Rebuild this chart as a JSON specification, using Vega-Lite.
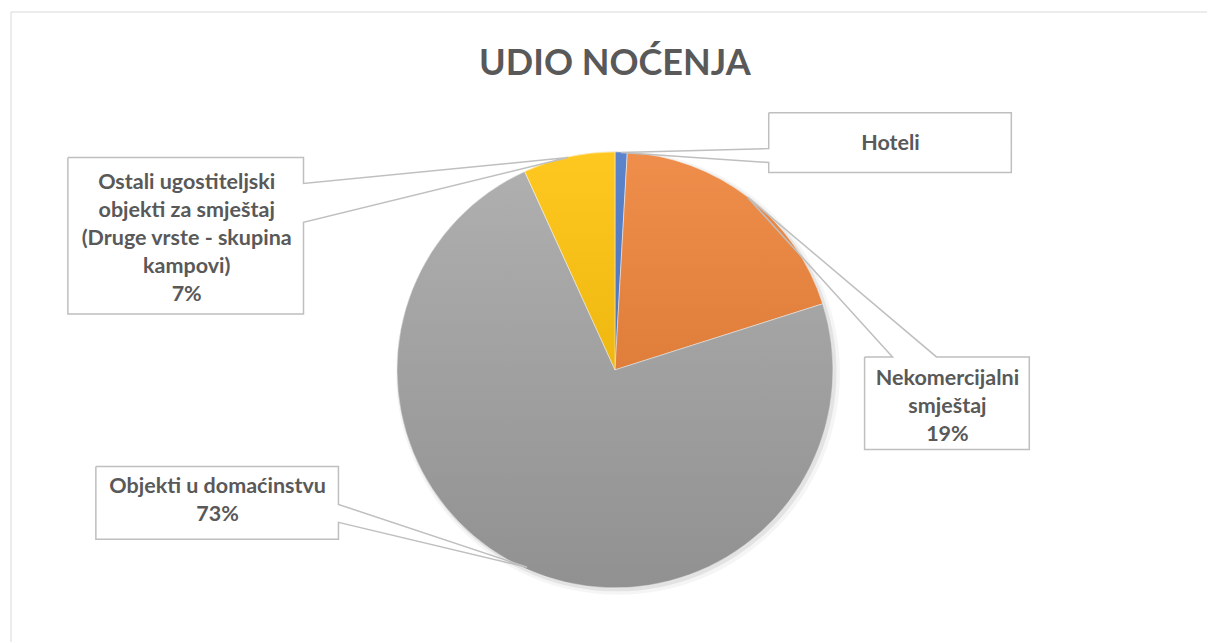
{
  "$schema": "https://vega.github.io/schema/vega-lite/v6.json",
  "width": 1208,
  "height": 643,
  "autosize": {"type": "fit", "contains": "padding"},
  "padding": {"left": 10, "top": 11, "right": 0, "bottom": 0},
  "background": "#ffffff",
  "config": {"view": {"stroke": null}},
  "datasets": {
    "slices": [
      {"cat": "Hoteli", "share": 0.9, "ord": 1},
      {"cat": "Nekomercijalni smještaj", "share": 19.2, "ord": 2},
      {"cat": "Objekti u domaćinstvu", "share": 73.1, "ord": 3},
      {"cat": "Ostali ugostiteljski objekti za smještaj (Druge vrste - skupina kampovi)", "share": 6.8, "ord": 4}
    ],
    "boxes": [
      {"id": "hot", "u1": 0.7064, "u2": 1.8211, "v1": 0.9083, "v2": 1.1835},
      {"id": "ost", "u1": -2.5138, "u2": -1.4312, "v1": 0.2569, "v2": 0.9771},
      {"id": "nek", "u1": 1.1468, "u2": 1.9037, "v1": -0.3670, "v2": 0.0596},
      {"id": "obj", "u1": -2.3853, "u2": -1.2706, "v1": -0.7798, "v2": -0.4450}
    ],
    "outline": [
      {"id": "hot", "s": 1, "u": 0.7064, "v": 1.1835},
      {"id": "hot", "s": 2, "u": 1.8211, "v": 1.1835},
      {"id": "hot", "s": 3, "u": 1.8211, "v": 0.9083},
      {"id": "hot", "s": 4, "u": 0.7064, "v": 0.9083},
      {"id": "hot", "s": 5, "u": 0.7064, "v": 0.9541},
      {"id": "hot", "s": 6, "u": 0.0275, "v": 1.0},
      {"id": "hot", "s": 7, "u": 0.7064, "v": 1.0183},
      {"id": "hot", "s": 8, "u": 0.7064, "v": 1.1835},
      {"id": "ost", "s": 1, "u": -2.5138, "v": 0.9771},
      {"id": "ost", "s": 2, "u": -1.4312, "v": 0.9771},
      {"id": "ost", "s": 3, "u": -1.4312, "v": 0.8578},
      {"id": "ost", "s": 4, "u": -0.2156, "v": 0.9771},
      {"id": "ost", "s": 5, "u": -1.4312, "v": 0.6789},
      {"id": "ost", "s": 6, "u": -1.4312, "v": 0.2569},
      {"id": "ost", "s": 7, "u": -2.5138, "v": 0.2569},
      {"id": "ost", "s": 8, "u": -2.5138, "v": 0.9771},
      {"id": "nek", "s": 1, "u": 1.1468, "v": 0.0596},
      {"id": "nek", "s": 2, "u": 1.2752, "v": 0.0596},
      {"id": "nek", "s": 3, "u": 0.6101, "v": 0.7936},
      {"id": "nek", "s": 4, "u": 1.4771, "v": 0.0596},
      {"id": "nek", "s": 5, "u": 1.9037, "v": 0.0596},
      {"id": "nek", "s": 6, "u": 1.9037, "v": -0.3670},
      {"id": "nek", "s": 7, "u": 1.1468, "v": -0.3670},
      {"id": "nek", "s": 8, "u": 1.1468, "v": 0.0596},
      {"id": "obj", "s": 1, "u": -2.3853, "v": -0.4450},
      {"id": "obj", "s": 2, "u": -1.2706, "v": -0.4450},
      {"id": "obj", "s": 3, "u": -1.2706, "v": -0.6193},
      {"id": "obj", "s": 4, "u": -0.4037, "v": -0.9083},
      {"id": "obj", "s": 5, "u": -1.2706, "v": -0.7018},
      {"id": "obj", "s": 6, "u": -1.2706, "v": -0.7798},
      {"id": "obj", "s": 7, "u": -2.3853, "v": -0.7798},
      {"id": "obj", "s": 8, "u": -2.3853, "v": -0.4450}
    ],
    "labels": [
      {"id": "hot", "u": 1.2661, "v": 1.0413, "label": "Hoteli"},
      {"id": "ost", "u": -1.9679, "v": 0.8578, "label": "Ostali ugostiteljski\nobjekti za smještaj\n(Druge vrste - skupina\nkampovi)\n7%"},
      {"id": "nek", "u": 1.5275, "v": -0.0413, "label": "Nekomercijalni\nsmještaj\n19%"},
      {"id": "obj", "u": -1.8257, "v": -0.5413, "label": "Objekti u domaćinstvu\n73%"}
    ],
    "title": [
      {"u": 0, "v": 1.4083, "label": "UDIO NOĆENJA"}
    ]
  },
  "layer": [
    {
      "data": {"name": "title"},
      "mark": {"type": "text", "font": "Lato", "fontWeight": "bold", "fontSize": 36, "color": "#595959", "align": "center", "baseline": "middle"},
      "encoding": {
        "x": {"field": "u", "type": "quantitative", "scale": {"domain": [-2.7752, 2.7202], "nice": false, "zero": false}, "axis": null},
        "y": {"field": "v", "type": "quantitative", "scale": {"domain": [-1.2523, 1.6468], "nice": false, "zero": false}, "axis": null},
        "text": {"field": "label", "type": "nominal"}
      }
    },
    {
      "data": {"values": [{"k": 1}]},
      "mark": {"type": "rule", "color": "#d9d9d9", "strokeWidth": 1},
      "encoding": {"y": {"datum": 1.6468, "type": "quantitative"}}
    },
    {
      "data": {"values": [{"k": 1}]},
      "mark": {"type": "rule", "color": "#d9d9d9", "strokeWidth": 1},
      "encoding": {"x": {"datum": -2.7752, "type": "quantitative"}}
    },
    {
      "data": {"values": [{"k": 1}]},
      "mark": {"type": "arc", "outerRadius": 222, "theta": 0, "theta2": 6.2832, "fill": "#000000", "opacity": 0.04, "x": {"expr": "scale('x', 0) + 3"}, "y": {"expr": "scale('y', 0) + 3"}},
      "encoding": {}
    },
    {
      "data": {"values": [{"k": 1}]},
      "mark": {"type": "arc", "outerRadius": 219.5, "theta": 0, "theta2": 6.2832, "fill": "#000000", "opacity": 0.07, "x": {"expr": "scale('x', 0) + 2"}, "y": {"expr": "scale('y', 0) + 2"}},
      "encoding": {}
    },
    {
      "data": {"name": "slices"},
      "mark": {"type": "arc", "outerRadius": 218, "stroke": "#ffffff", "strokeWidth": 0.5, "x": {"expr": "scale('x', 0)"}, "y": {"expr": "scale('y', 0)"}},
      "encoding": {
        "theta": {"field": "share", "type": "quantitative", "stack": true},
        "order": {"field": "ord", "type": "quantitative"},
        "color": {
          "field": "cat", "type": "nominal", "legend": null,
          "scale": {
            "domain": ["Hoteli", "Nekomercijalni smještaj", "Objekti u domaćinstvu", "Ostali ugostiteljski objekti za smještaj (Druge vrste - skupina kampovi)"],
            "range": ["#4472C4", "#ED7D31", "#A5A5A5", "#FFC000"]
          }
        }
      }
    },
    {
      "data": {"values": [{"k": 1}]},
      "mark": {
        "type": "arc", "outerRadius": 218, "theta": 0, "theta2": 6.2832,
        "x": {"expr": "scale('x', 0)"}, "y": {"expr": "scale('y', 0)"},
        "fill": {"gradient": "linear", "x1": 0, "y1": 0, "x2": 0, "y2": 1,
          "stops": [{"offset": 0, "color": "rgba(255,255,255,0.13)"}, {"offset": 1, "color": "rgba(0,0,0,0.12)"}]}
      },
      "encoding": {}
    },
    {
      "data": {"name": "boxes"},
      "mark": {"type": "rect", "fill": "#ffffff", "strokeWidth": 0},
      "encoding": {
        "x": {"field": "u1", "type": "quantitative"},
        "x2": {"field": "u2"},
        "y": {"field": "v1", "type": "quantitative"},
        "y2": {"field": "v2"}
      }
    },
    {
      "data": {"name": "outline"},
      "mark": {"type": "line", "color": "#bfbfbf", "strokeWidth": 1.5, "strokeJoin": "miter"},
      "encoding": {
        "x": {"field": "u", "type": "quantitative"},
        "y": {"field": "v", "type": "quantitative"},
        "detail": {"field": "id"},
        "order": {"field": "s", "type": "quantitative"}
      }
    },
    {
      "data": {"name": "labels"},
      "mark": {"type": "text", "font": "Lato", "fontWeight": "bold", "fontSize": 21.5, "color": "#595959", "align": "center", "baseline": "middle", "lineBreak": "\n", "lineHeight": 28},
      "encoding": {
        "x": {"field": "u", "type": "quantitative"},
        "y": {"field": "v", "type": "quantitative"},
        "text": {"field": "label", "type": "nominal"}
      }
    }
  ]
}
